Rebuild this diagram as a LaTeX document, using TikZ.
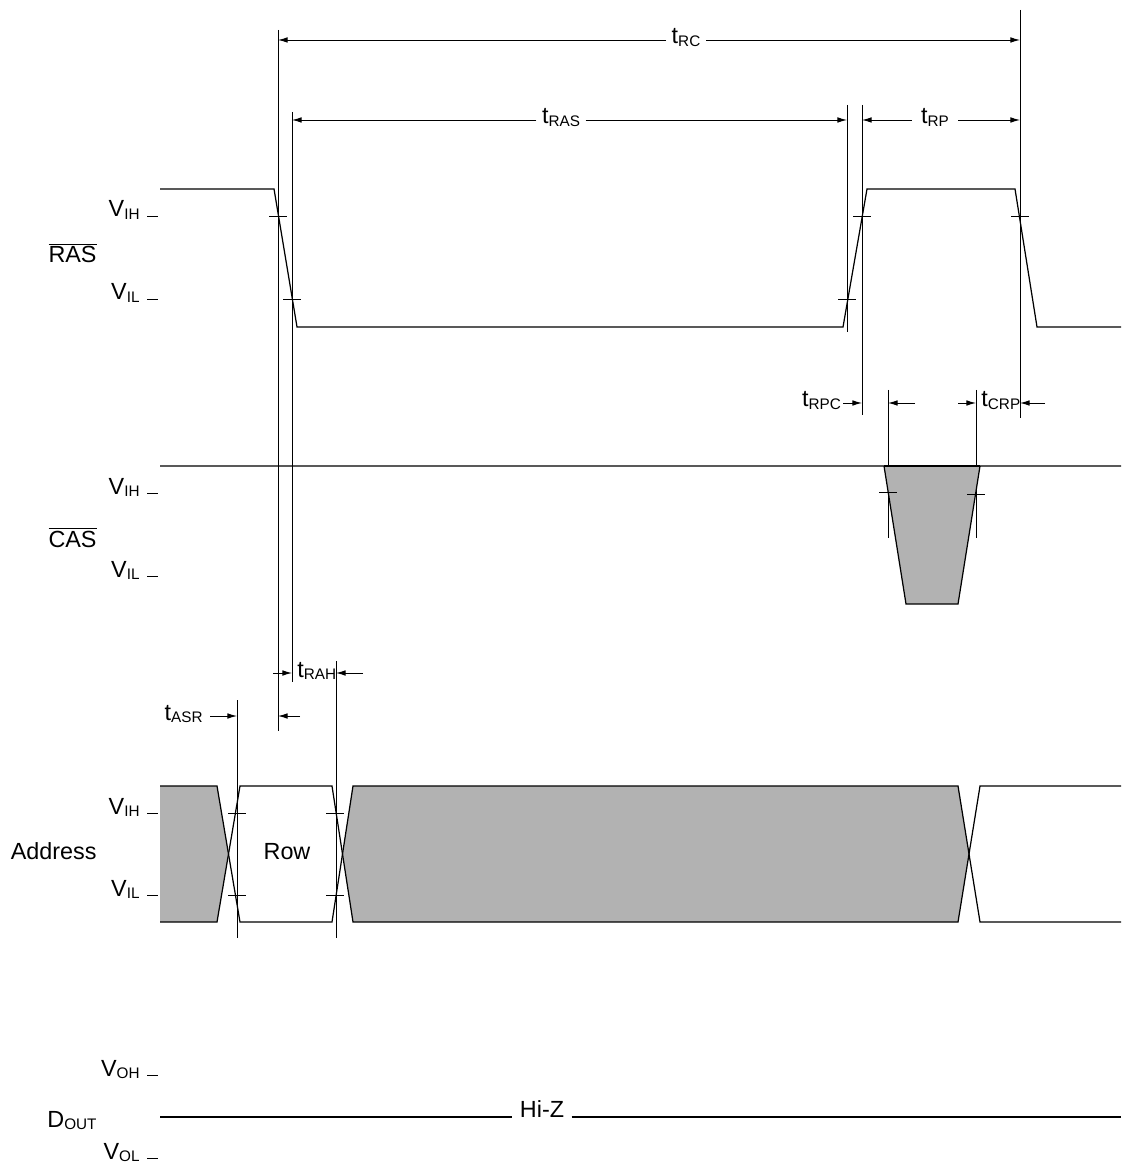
\documentclass[tikz,border=0pt]{standalone}
\usepackage{fontspec}
\setmainfont{Liberation Sans}
\usetikzlibrary{arrows.meta}
\newcommand\sg[2]{#1\raisebox{-1.6pt}{\fontsize{8.7}{10}\selectfont #2}}

\begin{document}
\begin{tikzpicture}[x=0.02cm, y=-0.02cm, line width=0.5pt,
  >={Latex[length=5.5pt,width=3.2pt]},
  lbl/.style={font=\fontsize{13.3}{15}\selectfont, inner sep=0pt},
  wave/.style={line width=0.7pt},
  shade/.style={fill=black!30}]
\useasboundingbox (0,0) rectangle (1121,1168);
% --- reference lines ---
\draw (278,30) -- (278,731);
\draw (292,112) -- (292,682);
\draw (847,105) -- (847,332);
\draw (862,105) -- (862,415);
\draw (1020,10) -- (1020,418);
\draw (888,390) -- (888,538);
\draw (976,390) -- (976,538);
\draw (237,700) -- (237,938);
\draw (336,661) -- (336,938);
% --- signal names and levels ---
\node[lbl, anchor=base east] (ras) at (97,263) {$\overline{\mbox{RAS}}$};
\node[lbl, anchor=base east] (cas) at (97,547) {$\overline{\mbox{CAS}}$};
\node[lbl, anchor=base east] (addr) at (97,859) {Address};
\node[lbl, anchor=base east] (dout) at (97,1127) {\sg{D}{OUT}};
\node[lbl, anchor=base east] (rasih) at (140,217) {\sg{V}{IH}};
\node[lbl, anchor=base east] (rasil) at (140,300) {\sg{V}{IL}};
\node[lbl, anchor=base east] (casih) at (140,494) {\sg{V}{IH}};
\node[lbl, anchor=base east] (casil) at (140,577) {\sg{V}{IL}};
\node[lbl, anchor=base east] (adrih) at (140,814) {\sg{V}{IH}};
\node[lbl, anchor=base east] (adril) at (140,896) {\sg{V}{IL}};
\node[lbl, anchor=base east] (voh) at (140,1076) {\sg{V}{OH}};
\node[lbl, anchor=base east] (vol) at (140,1159) {\sg{V}{OL}};
\foreach \y in {216,299,493,576,813,895,1075,1158}
  \draw (147,\y) -- (158,\y);
% --- RAS ---
\draw[wave] (160,189) -- (274,189) -- (297,327) -- (843,327) -- (867,189)
  -- (1015,189) -- (1037,327) -- (1121,327);
% --- CAS ---
\fill[shade] (884,466) -- (906,604) -- (958,604) -- (980,466) -- cycle;
\draw[wave] (160,466) -- (884,466) -- (906,604) -- (958,604) -- (980,466) -- (1121,466);
\draw[wave] (884,466) -- (980,466);
% --- Address ---
\fill[shade] (160,786) -- (217,786) -- (228.5,854) -- (217,922) -- (160,922) -- cycle;
\fill[shade] (353,786) -- (958,786) -- (969,854) -- (958,922) -- (353,922) -- (342.5,854) -- cycle;
\draw[wave] (160,786) -- (217,786) -- (240,922) -- (332,922) -- (353,786) -- (958,786)
  -- (980,922) -- (1121,922);
\draw[wave] (160,922) -- (217,922) -- (240,786) -- (332,786) -- (353,922) -- (958,922)
  -- (980,786) -- (1121,786);
\node[lbl, anchor=base] (row) at (287,859) {Row};
% --- Dout ---
\node[lbl, anchor=base, inner sep=4pt] (hiz) at (542,1117) {Hi-Z};
\draw[wave] (160,1117) -- (hiz.base west);
\draw[wave] (hiz.base east) -- (1121,1117);
% --- crossing ticks ---
\foreach \x/\y in {278/216, 292/299, 847/299, 862/216, 1020/216,
  888/492, 976/494, 237/813, 237/895, 335/813, 335/895}
  \draw (\x-9,\y) -- (\x+9,\y);
% --- timing: tRC, tRAS, tRP ---
\coordinate (rcl) at (278,40);
\coordinate (rcr) at (1020,40);
\node[lbl, anchor=base, inner sep=3pt] (trc) at (686,44) {\sg{t}{RC}};
\draw[->] (trc.west |- rcl) -- (rcl);
\draw[->] (trc.east |- rcr) -- (rcr);
\coordinate (rasl) at (292,120);
\coordinate (rasr) at (847,120);
\node[lbl, anchor=base, inner sep=3pt] (tras) at (561,124) {\sg{t}{RAS}};
\draw[->] (tras.west |- rasl) -- (rasl);
\draw[->] (tras.east |- rasr) -- (rasr);
\coordinate (rpl) at (862,120);
\coordinate (rpr) at (1020,120);
\node[lbl, anchor=base, inner sep=5pt] (trp) at (935,124) {\sg{t}{RP}};
\draw[->] (trp.west |- rpl) -- (rpl);
\draw[->] (trp.east |- rpr) -- (rpr);
% --- timing: tRPC, tCRP ---
\coordinate (rpc) at (862,403);
\node[lbl, anchor=base east, inner sep=1pt] (trpc) at (843,407) {\sg{t}{RPC}};
\draw[->] (trpc.east |- rpc) -- (rpc);
\coordinate (cfa) at (915,403);
\coordinate (cfb) at (888,403);
\draw[->] (cfa) -- (cfb);
\coordinate (cra) at (958,403);
\coordinate (crb) at (976,403);
\draw[->] (cra) -- (crb);
\node[lbl, anchor=base west] (tcrp) at (981,407) {\sg{t}{CRP}};
\coordinate (crc) at (1045,403);
\coordinate (crd) at (1020,403);
\draw[->] (crc) -- (crd);
% --- timing: tRAH, tASR ---
\coordinate (raa) at (273,673);
\coordinate (rab) at (292,673);
\draw[->] (raa) -- (rab);
\node[lbl, anchor=base west] (trah) at (297,677) {\sg{t}{RAH}};
\coordinate (rac) at (363,673);
\coordinate (rad) at (336,673);
\draw[->] (rac) -- (rad);
\node[lbl, anchor=base east] (tasr) at (203,720) {\sg{t}{ASR}};
\coordinate (asa) at (210,716);
\coordinate (asb) at (237,716);
\draw[->] (asa) -- (asb);
\coordinate (asc) at (300,716);
\coordinate (asd) at (278,716);
\draw[->] (asc) -- (asd);
\end{tikzpicture}
\end{document}
